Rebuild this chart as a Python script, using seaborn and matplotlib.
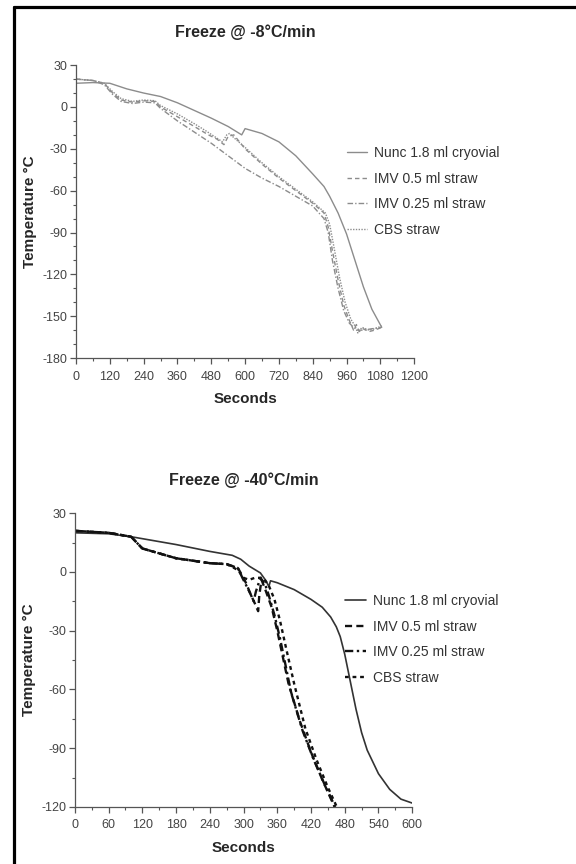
import pandas as pd
import seaborn as sns
import matplotlib
matplotlib.use('Agg')
import matplotlib.pyplot as plt
from matplotlib.lines import Line2D
from matplotlib.ticker import MultipleLocator

# -8 C/min run
nunc8_t = [0, 60, 120, 180, 240, 300, 360, 420, 480, 540, 588, 600, 660, 720, 780, 840, 880, 900, 930, 960, 990, 1020, 1050, 1085]
nunc8_v = [17, 17.5, 17, 13, 10, 7.5, 3, -2.5, -8, -14, -20, -15.5, -19, -25, -35, -48, -57, -64, -76, -91, -110, -129, -145, -158]

imv05_8_t = [0, 60, 100, 130, 160, 200, 240, 280, 300, 360, 420, 470, 500, 525, 540, 560, 600, 660, 720, 780, 840, 880, 895, 910, 930, 950, 970, 985, 995, 1005, 1020, 1040, 1060, 1085]
imv05_8_v = [20, 19, 17, 10, 5, 3.5, 4.5, 4, 0, -7, -14, -20, -23, -27, -21, -20, -30, -41, -51, -60, -69, -76, -86, -103, -124, -142, -153, -160, -156, -161, -159, -161, -160, -158]

imv025_8_t = [0, 60, 100, 130, 160, 200, 240, 280, 300, 360, 420, 480, 540, 600, 660, 720, 780, 840, 880, 895, 910, 930, 950, 970, 985, 1000, 1020, 1050, 1085]
imv025_8_v = [20, 19, 16, 9, 4, 2.5, 3.5, 3, -1, -10, -18, -26, -35, -44, -51, -57, -64, -71, -80, -90, -110, -130, -146, -155, -158, -160, -160, -159, -158]

cbs8_t = [0, 60, 100, 130, 160, 200, 240, 280, 300, 360, 420, 460, 475, 490, 520, 535, 545, 560, 600, 660, 720, 780, 840, 885, 900, 915, 935, 955, 975, 990, 1000, 1015, 1040, 1060, 1085]
cbs8_v = [20, 19, 17, 11, 6, 4, 5, 4.5, 1, -5, -12, -17, -19, -21, -25, -20, -19, -22, -29, -40, -50, -59, -68, -76, -84, -100, -122, -140, -152, -157, -162, -158, -160, -159, -157]

# -40 C/min run
nunc40_t = [0, 60, 100, 140, 180, 240, 280, 295, 310, 330, 340, 345, 348, 360, 390, 420, 440, 455, 465, 472, 480, 490, 500, 510, 520, 540, 560, 580, 600]
nunc40_v = [20, 19.5, 18, 16, 14, 10.5, 8.5, 6.5, 3, -0.5, -4.5, -7.5, -4.5, -5.5, -9, -14, -18, -23, -28, -33, -42, -56, -70, -82, -91, -103, -111, -116, -118]

imv05_40_t = [0, 60, 100, 110, 120, 180, 240, 270, 290, 298, 305, 312, 320, 326, 328, 332, 340, 350, 360, 380, 400, 420, 440, 462]
imv05_40_v = [21, 20, 18, 15, 12, 7, 4.5, 4, 2, -2, -6, -11, -16, -20, -12, -4, -10, -18, -30, -57, -76, -92, -106, -120]

imv025_40_t = [0, 60, 100, 110, 120, 180, 240, 270, 290, 298, 305, 312, 318, 322, 330, 338, 345, 355, 365, 385, 405, 425, 445, 463]
imv025_40_v = [21, 20, 18, 15, 12, 7, 4.5, 4, 2, -3, -7, -11, -15, -10, -3, -6, -12, -22, -34, -62, -81, -96, -109, -120]

cbs40_t = [0, 60, 100, 110, 120, 180, 240, 270, 290, 300, 310, 320, 335, 345, 355, 365, 375, 390, 410, 430, 450, 466]
cbs40_v = [21, 20, 18, 15, 12, 7, 4.5, 4, 1, -3, -4, -3, -3, -7, -14, -25, -38, -57, -80, -96, -110, -120]

labels = ['Nunc 1.8 ml cryovial', 'IMV 0.5 ml straw', 'IMV 0.25 ml straw', 'CBS straw']

sns.set_style('ticks')
plt.rcParams['font.family'] = ['Liberation Sans', 'DejaVu Sans']
plt.rcParams['axes.unicode_minus'] = False

fig = plt.figure(figsize=(5.76, 8.64), dpi=100)
ax1 = fig.add_axes([0.132, 0.5856, 0.587, 0.339])
ax2 = fig.add_axes([0.130, 0.066, 0.5856, 0.340])


def draw_panel(ax, series, styles, title, xmax, xstep, ymin, ystep, yminor):
    for (t, v), lab, (col, lw, dash) in zip(series, labels, styles):
        df = pd.DataFrame({'Seconds': t, 'Temp': v})
        sns.lineplot(data=df, x='Seconds', y='Temp', ax=ax, color=col, linewidth=lw,
                     label=lab, estimator=None, sort=False)
        if dash:
            ax.get_lines()[-1].set_dashes(dash)
    ax.set_xlim(0, xmax)
    ax.set_ylim(ymin, 30)
    ax.xaxis.set_major_locator(MultipleLocator(xstep))
    ax.xaxis.set_minor_locator(MultipleLocator(xstep / 2))
    ax.yaxis.set_major_locator(MultipleLocator(ystep))
    ax.yaxis.set_minor_locator(MultipleLocator(yminor))
    sns.despine(ax=ax)
    for s in ['left', 'bottom']:
        ax.spines[s].set_color('#555555')
        ax.spines[s].set_linewidth(0.9)
    ax.tick_params(which='major', length=4, width=0.9, color='#555555', labelsize=9, labelcolor='#444444')
    ax.tick_params(which='minor', length=2.5, width=0.8, color='#555555')
    ax.tick_params(axis='x', pad=5)
    ax.tick_params(axis='y', pad=2)
    for lbl in ax.get_xticklabels() + ax.get_yticklabels():
        lbl.set_fontfamily(['Liberation Sans Narrow', 'Liberation Sans'])
    ax.set_title(title, fontsize=11.5, fontweight='bold', pad=20)
    ax.set_xlabel('Seconds', fontsize=11, fontweight='bold', labelpad=7)
    ax.set_ylabel('Temperature \u00b0C', fontsize=11, fontweight='bold', labelpad=4)
    leg = ax.legend(loc='upper left', bbox_to_anchor=(0.80, 0.724), frameon=False, fontsize=10,
                    handlelength=1.5, handletextpad=0.5, borderpad=0, borderaxespad=0, labelspacing=0.83)
    for txt in leg.get_texts():
        txt.set_color('#333333')


gray = '#8c8c8c'
styles8 = [(gray, 1.0, None), (gray, 1.0, (3.2, 2.2)), (gray, 1.0, (4, 1.5, 1, 1.5)), (gray, 1.0, (1, 1))]
styles40 = [('#333333', 1.2, None), ('#111111', 1.7, (3, 1.8)), ('#111111', 1.7, (3.5, 1.5, 1, 1.5)), ('#111111', 1.7, (1.6, 1.6))]

draw_panel(ax1, [(nunc8_t, nunc8_v), (imv05_8_t, imv05_8_v), (imv025_8_t, imv025_8_v), (cbs8_t, cbs8_v)],
           styles8, 'Freeze @ -8\u00b0C/min', 1200, 120, -180, 30, 10)
draw_panel(ax2, [(nunc40_t, nunc40_v), (imv05_40_t, imv05_40_v), (imv025_40_t, imv025_40_v), (cbs40_t, cbs40_v)],
           styles40, 'Freeze @ -40\u00b0C/min', 600, 60, -120, 30, 15)

# cropped page frame, only top and left edges are visible
fx = 14 / 576
fy = 1 - 7 / 864
fig.add_artist(Line2D([fx, fx], [0, fy], transform=fig.transFigure, color='black', linewidth=2.3))
fig.add_artist(Line2D([fx, 1], [fy, fy], transform=fig.transFigure, color='black', linewidth=2.3))

fig.savefig('out.png', dpi=100)
